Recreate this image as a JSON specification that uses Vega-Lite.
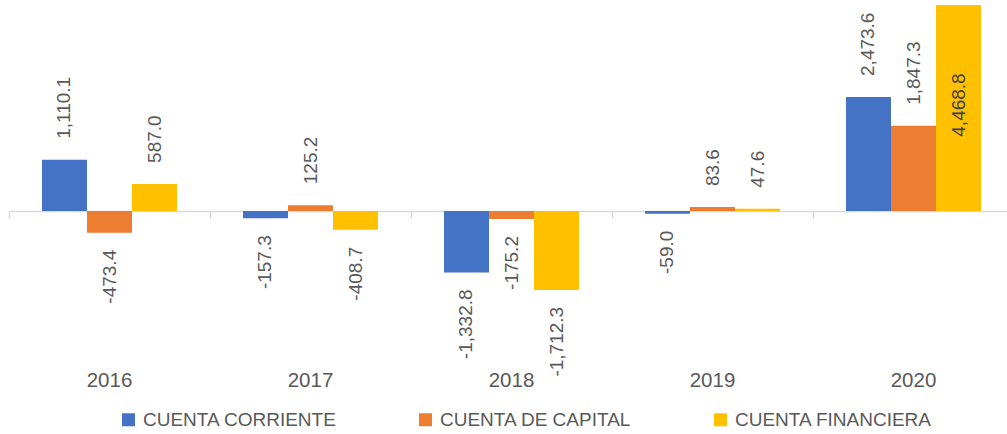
{
  "$schema": "https://vega.github.io/schema/vega-lite/v6.json",
  "width": 998,
  "height": 360,
  "autosize": {"type": "none"},
  "padding": {"left": 9, "top": 5, "right": 0, "bottom": 69},
  "background": "white",
  "config": {
    "view": {"stroke": null},
    "locale": {"number": {"decimal": ".", "thousands": ",", "grouping": [3], "currency": ["$", ""], "minus": "-"}},
    "text": {"font": "Liberation Sans"}
  },
  "data": {
    "values": [
      {"year": "2016", "serie": "CUENTA CORRIENTE", "value": 1110.1},
      {"year": "2016", "serie": "CUENTA DE CAPITAL", "value": -473.4},
      {"year": "2016", "serie": "CUENTA FINANCIERA", "value": 587.0},
      {"year": "2017", "serie": "CUENTA CORRIENTE", "value": -157.3},
      {"year": "2017", "serie": "CUENTA DE CAPITAL", "value": 125.2},
      {"year": "2017", "serie": "CUENTA FINANCIERA", "value": -408.7},
      {"year": "2018", "serie": "CUENTA CORRIENTE", "value": -1332.8},
      {"year": "2018", "serie": "CUENTA DE CAPITAL", "value": -175.2},
      {"year": "2018", "serie": "CUENTA FINANCIERA", "value": -1712.3},
      {"year": "2019", "serie": "CUENTA CORRIENTE", "value": -59.0},
      {"year": "2019", "serie": "CUENTA DE CAPITAL", "value": 83.6},
      {"year": "2019", "serie": "CUENTA FINANCIERA", "value": 47.6},
      {"year": "2020", "serie": "CUENTA CORRIENTE", "value": 2473.6},
      {"year": "2020", "serie": "CUENTA DE CAPITAL", "value": 1847.3},
      {"year": "2020", "serie": "CUENTA FINANCIERA", "value": 4468.8}
    ]
  },
  "resolve": {"axis": {"x": "independent"}},
  "encoding": {
    "xOffset": {"field": "serie", "type": "nominal", "scale": {"paddingInner": 0, "paddingOuter": 0.733}},
    "y": {"field": "value", "type": "quantitative", "scale": {"domain": [-3342, 4468.8], "nice": false, "zero": false}, "axis": null}
  },
  "layer": [
    {
      "mark": {"type": "bar"},
      "encoding": {
        "x": {"field": "year", "type": "nominal", "scale": {"rangeMax": 1005, "paddingInner": 0, "paddingOuter": 0},
          "axis": {"orient": "bottom", "title": null, "domain": false, "ticks": false, "labelAngle": 0, "labelFont": "Liberation Sans", "labelFontSize": 20.5, "labelColor": "#595959", "labelPadding": 5, "grid": false}},
        "color": {"field": "serie", "type": "nominal",
          "scale": {"domain": ["CUENTA CORRIENTE", "CUENTA DE CAPITAL", "CUENTA FINANCIERA"], "range": ["#4472C4", "#ED7D31", "#FFC000"]},
          "legend": {"orient": "none", "legendX": 110, "legendY": 405, "direction": "horizontal", "columns": 3, "columnPadding": 79, "symbolType": "square", "symbolSize": 169, "symbolStrokeWidth": 0, "labelFontSize": 19, "labelFont": "Liberation Sans", "labelColor": "#595959", "labelOffset": 5, "title": null, "padding": 0, "labelLimit": 0}}
      }
    },
    {
      "transform": [{"filter": "datum.value > 0 && !(datum.year == '2020' && datum.serie == 'CUENTA FINANCIERA')"}],
      "mark": {"type": "text", "angle": 270, "align": "left", "baseline": "middle", "dx": 21, "fontSize": 19, "color": "#595959"},
      "encoding": {
        "x": {"field": "year", "type": "nominal", "axis": null},
        "text": {"field": "value", "type": "quantitative", "format": ",.1f"}
      }
    },
    {
      "transform": [{"filter": "datum.value < 0"}],
      "mark": {"type": "text", "angle": 270, "align": "right", "baseline": "middle", "dx": -17, "fontSize": 19, "color": "#595959"},
      "encoding": {
        "x": {"field": "year", "type": "nominal",
          "axis": {"orient": "bottom", "offset": -154, "labels": false, "title": null, "grid": false, "domainColor": "#d9d9d9", "domainWidth": 1.5, "tickColor": "#d9d9d9", "tickWidth": 1.5, "tickSize": 7, "tickBand": "extent"}},
        "text": {"field": "value", "type": "quantitative", "format": ",.1f"}
      }
    },
    {
      "transform": [{"filter": "datum.year == '2020' && datum.serie == 'CUENTA FINANCIERA'"}],
      "mark": {"type": "text", "angle": 270, "align": "center", "baseline": "middle", "dx": -100, "fontSize": 19, "color": "#404040"},
      "encoding": {
        "x": {"field": "year", "type": "nominal", "axis": null},
        "text": {"field": "value", "type": "quantitative", "format": ",.1f"}
      }
    }
  ]
}
